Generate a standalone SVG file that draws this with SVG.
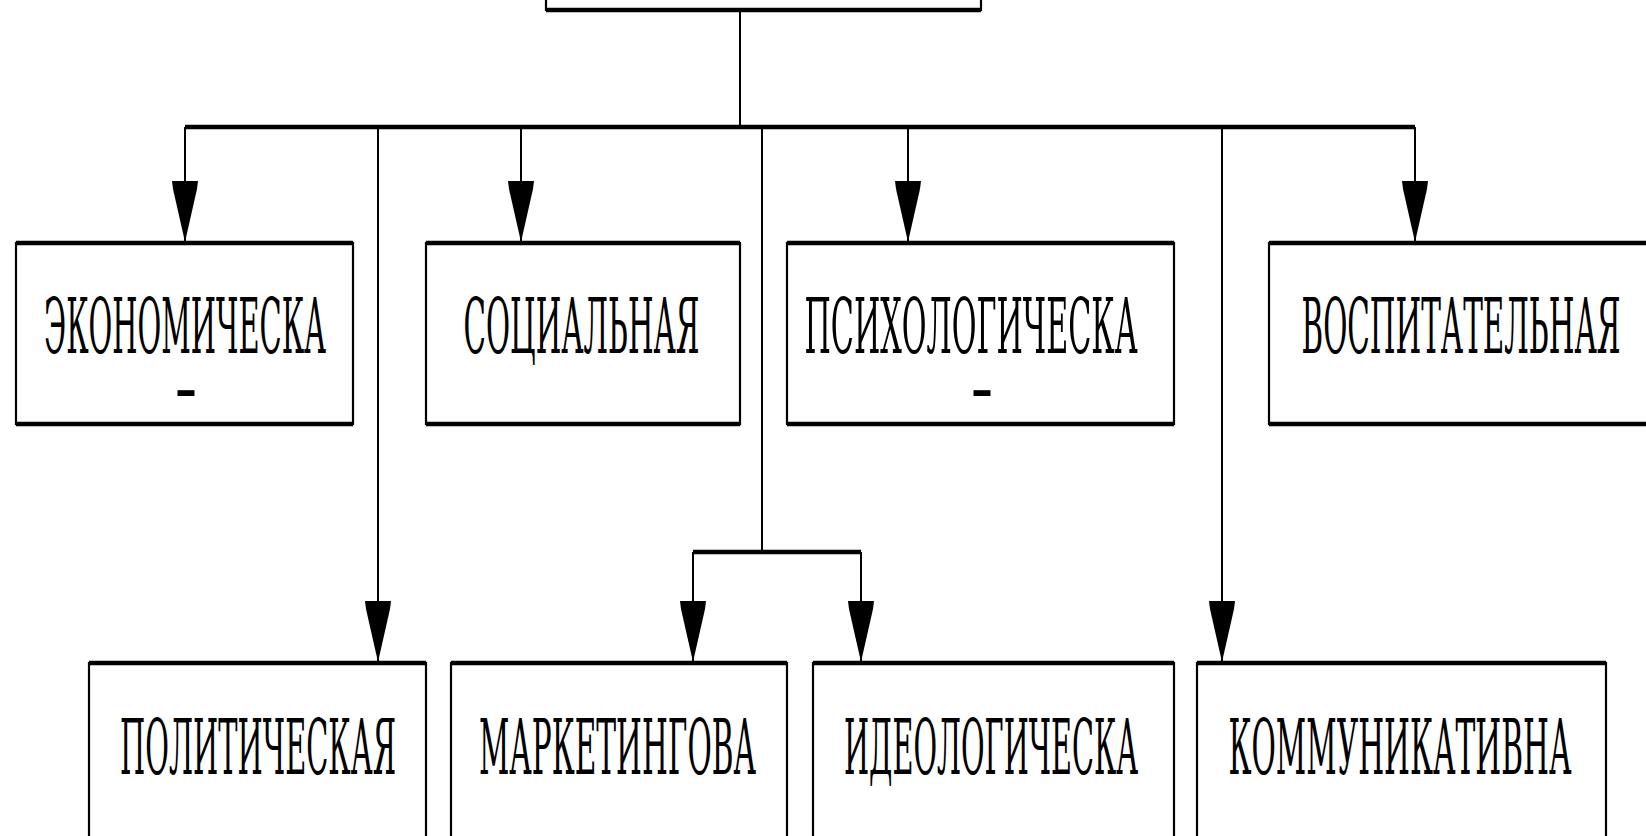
<svg xmlns="http://www.w3.org/2000/svg" width="1646" height="836" viewBox="0 0 1646 836">
<style>
.box{fill:#fff;stroke:#000;stroke-width:2.2}
.edge{stroke:#000;stroke-width:4.5;fill:none}
.lbl{font-family:"DejaVu Serif","Liberation Serif",serif;font-size:32px;fill:#000;text-anchor:middle}
.v{stroke:#000;stroke-width:2;fill:none}
.h{stroke:#000;stroke-width:4.5;fill:none}
</style>
<defs>
<marker id="arr" markerUnits="userSpaceOnUse" markerWidth="62" markerHeight="28" viewBox="0 0 62 28" refX="61" refY="14" orient="auto">
<path d="M0,1 L0,27 L8,26 L61,14 L8,2 Z" fill="#000"/>
</marker>
</defs>
<rect width="1646" height="836" fill="#fff"/>

<g id="connectors">
<path class="v" d="M740,10 V127"/>
<path class="h" d="M185,127 H1415"/>
<path class="v" d="M185,127 V242" marker-end="url(#arr)"/>
<path class="v" d="M521,127 V242" marker-end="url(#arr)"/>
<path class="v" d="M908,127 V242" marker-end="url(#arr)"/>
<path class="v" d="M1415,127 V242" marker-end="url(#arr)"/>
<path class="v" d="M378,127 V662" marker-end="url(#arr)"/>
<path class="v" d="M1222,127 V662" marker-end="url(#arr)"/>
<path class="v" d="M762,127 V552"/>
<path class="h" d="M693,552 H861"/>
<path class="v" d="M693,552 V662" marker-end="url(#arr)"/>
<path class="v" d="M861,552 V662" marker-end="url(#arr)"/>
</g>

<g id="top">
<rect class="box" x="546" y="-60" width="435" height="70"/>
<path class="edge" d="M546,10 H981"/>
</g>

<g id="economic">
<rect class="box" x="16" y="243" width="337" height="181"/>
<path class="edge" d="M16,243 H353 M16,424 H353"/>
<text class="lbl" transform="translate(185,353) scale(1,2.4)" textLength="282" lengthAdjust="spacingAndGlyphs">ЭКОНОМИЧЕСКА</text>
<text class="lbl" transform="translate(186,414) scale(1,2.4)" textLength="23" lengthAdjust="spacingAndGlyphs">-</text>
</g>

<g id="social">
<rect class="box" x="426" y="243" width="314" height="181"/>
<path class="edge" d="M426,243 H740 M426,424 H740"/>
<text class="lbl" transform="translate(581.5,353) scale(1,2.4)" textLength="236" lengthAdjust="spacingAndGlyphs">СОЦИАЛЬНАЯ</text>
</g>

<g id="psychological">
<rect class="box" x="787" y="243" width="387" height="181"/>
<path class="edge" d="M787,243 H1174 M787,424 H1174"/>
<text class="lbl" transform="translate(971,353) scale(1,2.4)" textLength="333" lengthAdjust="spacingAndGlyphs">ПСИХОЛОГИЧЕСКА</text>
<text class="lbl" transform="translate(982,414) scale(1,2.4)" textLength="23" lengthAdjust="spacingAndGlyphs">-</text>
</g>

<g id="educational">
<rect class="box" x="1269" y="243" width="400" height="181"/>
<path class="edge" d="M1269,243 H1669 M1269,424 H1669"/>
<text class="lbl" transform="translate(1461,353) scale(1,2.4)" textLength="319" lengthAdjust="spacingAndGlyphs">ВОСПИТАТЕЛЬНАЯ</text>
</g>

<g id="political">
<rect class="box" x="89" y="663" width="337" height="200"/>
<path class="edge" d="M89,663 H426"/>
<text class="lbl" transform="translate(258,774) scale(1,2.4)" textLength="276" lengthAdjust="spacingAndGlyphs">ПОЛИТИЧЕСКАЯ</text>
</g>

<g id="marketing">
<rect class="box" x="451" y="663" width="336" height="200"/>
<path class="edge" d="M451,663 H787"/>
<text class="lbl" transform="translate(617.5,774) scale(1,2.4)" textLength="277" lengthAdjust="spacingAndGlyphs">МАРКЕТИНГОВА</text>
</g>

<g id="ideological">
<rect class="box" x="813" y="663" width="361" height="200"/>
<path class="edge" d="M813,663 H1174"/>
<text class="lbl" transform="translate(991,774) scale(1,2.4)" textLength="294" lengthAdjust="spacingAndGlyphs">ИДЕОЛОГИЧЕСКА</text>
</g>

<g id="communicative">
<rect class="box" x="1197" y="663" width="409" height="200"/>
<path class="edge" d="M1197,663 H1606"/>
<text class="lbl" transform="translate(1400,774) scale(1,2.4)" textLength="343" lengthAdjust="spacingAndGlyphs">КОММУНИКАТИВНА</text>
</g>
</svg>
